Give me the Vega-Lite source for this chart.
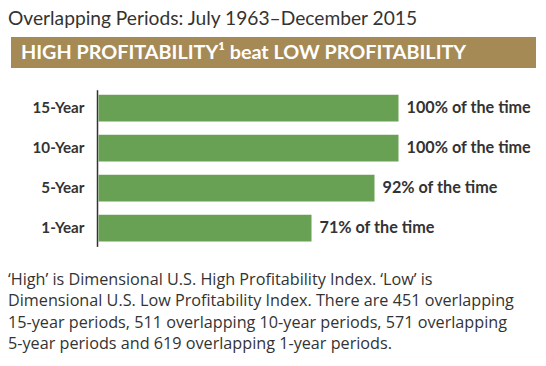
{
  "$schema": "https://vega.github.io/schema/vega-lite/v6.json",
  "background": "white",
  "padding": {"left": 8, "top": 9, "right": 2, "bottom": 0},
  "title": {
    "text": "Overlapping Periods: July 1963–December 2015",
    "anchor": "start",
    "font": "Lato",
    "fontSize": 19.2,
    "fontWeight": "normal",
    "color": "#333333",
    "offset": 8
  },
  "spacing": 21.7,
  "config": {"view": {"stroke": null}, "font": "Lato"},
  "vconcat": [
    {
      "width": 525,
      "height": 31,
      "view": {"fill": "#a68a55", "stroke": null},
      "data": {"values": [{"text": "HIGH PROFITABILITY¹ beat LOW PROFITABILITY", "x": 0, "y": 0.5}]},
      "mark": {"type": "text", "align": "left", "baseline": "middle", "dx": 10, "font": "Lato", "fontSize": 19.8, "fontWeight": "bold", "color": "white"},
      "encoding": {
        "x": {"field": "x", "type": "quantitative", "scale": {"domain": [0, 1]}, "axis": null},
        "y": {"field": "y", "type": "quantitative", "scale": {"domain": [0, 1]}, "axis": null},
        "text": {"field": "text"}
      }
    },
    {
      "width": 525,
      "height": 156.7,
      "data": {"values": [
        {"period": "15-Year", "pct": 100, "label": "100% of the time"},
        {"period": "10-Year", "pct": 100, "label": "100% of the time"},
        {"period": "5-Year", "pct": 92, "label": "92% of the time"},
        {"period": "1-Year", "pct": 71, "label": "71% of the time"}
      ]},
      "encoding": {
        "y": {"field": "period", "type": "nominal", "sort": null,
          "scale": {"paddingInner": 0.333, "paddingOuter": 0.125},
          "axis": {"title": null, "ticks": false, "grid": false, "offset": -86, "domainColor": "#333333", "domainWidth": 1.5, "labelFont": "Lato", "labelFontSize": 15.2, "labelFontWeight": "bold", "labelColor": "#333333", "labelPadding": 13}},
        "x": {"field": "pct", "type": "quantitative", "scale": {"domain": [-29.17, 145.83], "nice": false}, "axis": null}
      },
      "layer": [
        {"mark": {"type": "bar", "color": "#68a153"}},
        {"mark": {"type": "text", "align": "left", "baseline": "middle", "dx": 8, "font": "Lato", "fontSize": 16.2, "fontWeight": "bold", "color": "#333333"},
         "encoding": {"text": {"field": "label"}}}
      ]
    },
    {
      "width": 525,
      "height": 97.2,
      "data": {"values": [
        {"line": 1, "text": "‘High’ is Dimensional U.S. High Profitability Index. ‘Low’ is"},
        {"line": 2, "text": "Dimensional U.S. Low Profitability Index. There are 451 overlapping"},
        {"line": 3, "text": "15-year periods, 511 overlapping 10-year periods, 571 overlapping"},
        {"line": 4, "text": "5-year periods and 619 overlapping 1-year periods."}
      ]},
      "mark": {"type": "text", "align": "left", "baseline": "alphabetic", "dx": -3, "font": "Open Sans", "fontSize": 16.2, "color": "#333333"},
      "encoding": {
        "y": {"field": "line", "type": "ordinal", "scale": {"type": "point", "padding": 0.78}, "axis": null},
        "x": {"datum": 0, "type": "quantitative", "scale": {"domain": [0, 1]}, "axis": null},
        "text": {"field": "text"}
      }
    }
  ]
}
